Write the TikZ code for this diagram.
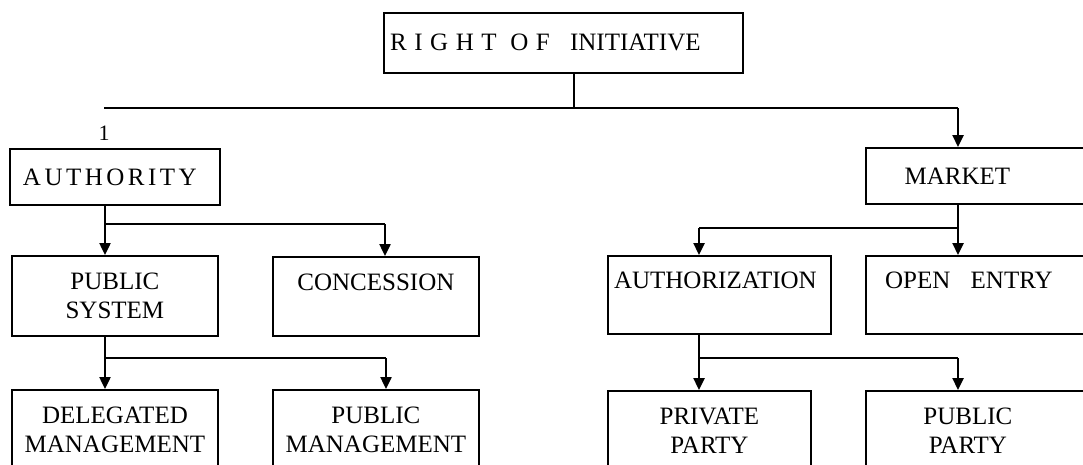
\documentclass[tikz,border=0pt]{standalone}
\usepackage{fontspec}
\setmainfont{Liberation Serif}
\newfontfamily\spacedfont[LetterSpace=14]{Liberation Serif}
\newfontfamily\widefont[LetterSpace=30]{Liberation Serif}
\usetikzlibrary{arrows.meta}
\begin{document}
\begin{tikzpicture}[x=1pt,y=-1pt,
    box/.style={draw,line width=1.8pt,anchor=north west,inner sep=0pt,align=center,
        minimum height=80pt,font=\fontsize{25}{29}\selectfont},
    link/.style={line width=2.4pt},
    arrow/.style={link,-{Triangle[length=12pt,width=11pt]}}]
    \useasboundingbox (0,0) rectangle (1083,464);
    \clip (0,0) rectangle (1083,464);

    \node[box,minimum width=359pt,minimum height=60pt] (init) at (383,12) {{\widefont RIGHT OF}\hspace{14pt} INITIATIVE\hspace*{36pt}};
    \node[box,minimum width=210pt,minimum height=56pt] (auth) at (9,148) {\spacedfont AUTHORITY\hspace*{10pt}};
    \node[box,minimum width=225pt,minimum height=56pt] (market) at (865,147) {MARKET\hspace*{42pt}};
    \node[font=\fontsize{22}{24}\selectfont,inner sep=0pt] (one) at (104,133) {1};

    \node[box,minimum width=206pt] (pubsys) at (11,255) {PUBLIC\\SYSTEM};
    \node[box,minimum width=206pt,minimum height=79pt] (conc) at (272,256) {CONCESSION\\\mbox{}};
    \node[box,minimum width=223pt,minimum height=78pt] (authz) at (607,255) {AUTHORIZATION\hspace*{8pt}\\\mbox{}};
    \node[box,minimum width=225pt,minimum height=78pt] (open) at (865,255) {OPEN\hspace{14pt} ENTRY\hspace*{19pt}\\\mbox{}};

    \node[box,minimum width=206pt] (deleg) at (11,389) {DELEGATED\\MANAGEMENT};
    \node[box,minimum width=206pt] (pubman) at (272,389) {PUBLIC\\MANAGEMENT};
    \node[box,minimum width=203pt] (priv) at (607,390) {PRIVATE\\PARTY};
    \node[box,minimum width=225pt] (pubparty) at (865,390) {PUBLIC\hspace*{21pt}\\PARTY\hspace*{21pt}};

    \coordinate (top) at (574,108);
    \coordinate (tl) at (104,108);
    \coordinate (tr) at (958,108);
    \draw[link] (init.south -| top) -- (top);
    \draw[link] (tl) -- (tr);
    \draw[arrow] (tr) -- (market.north -| tr);

    \coordinate (aj) at (105,224);
    \coordinate (ac) at (385,224);
    \draw[link] (auth.south -| aj) -- (aj) -- (ac);
    \draw[arrow] (aj) -- (pubsys.north -| aj);
    \draw[arrow] (ac) -- (conc.north -| ac);

    \coordinate (mj) at (958,228);
    \coordinate (ml) at (699,228);
    \draw[link] (market.south -| mj) -- (mj) -- (ml);
    \draw[arrow] (ml) -- (authz.north -| ml);
    \draw[arrow] (mj) -- (open.north -| mj);

    \coordinate (pj) at (105,358);
    \coordinate (pr) at (386,358);
    \draw[link] (pubsys.south -| pj) -- (pj) -- (pr);
    \draw[arrow] (pj) -- (deleg.north -| pj);
    \draw[arrow] (pr) -- (pubman.north -| pr);

    \coordinate (zj) at (699,358);
    \coordinate (zr) at (958,358);
    \draw[link] (authz.south -| zj) -- (zj) -- (zr);
    \draw[arrow] (zj) -- (priv.north -| zj);
    \draw[arrow] (zr) -- (pubparty.north -| zr);
\end{tikzpicture}
\end{document}
